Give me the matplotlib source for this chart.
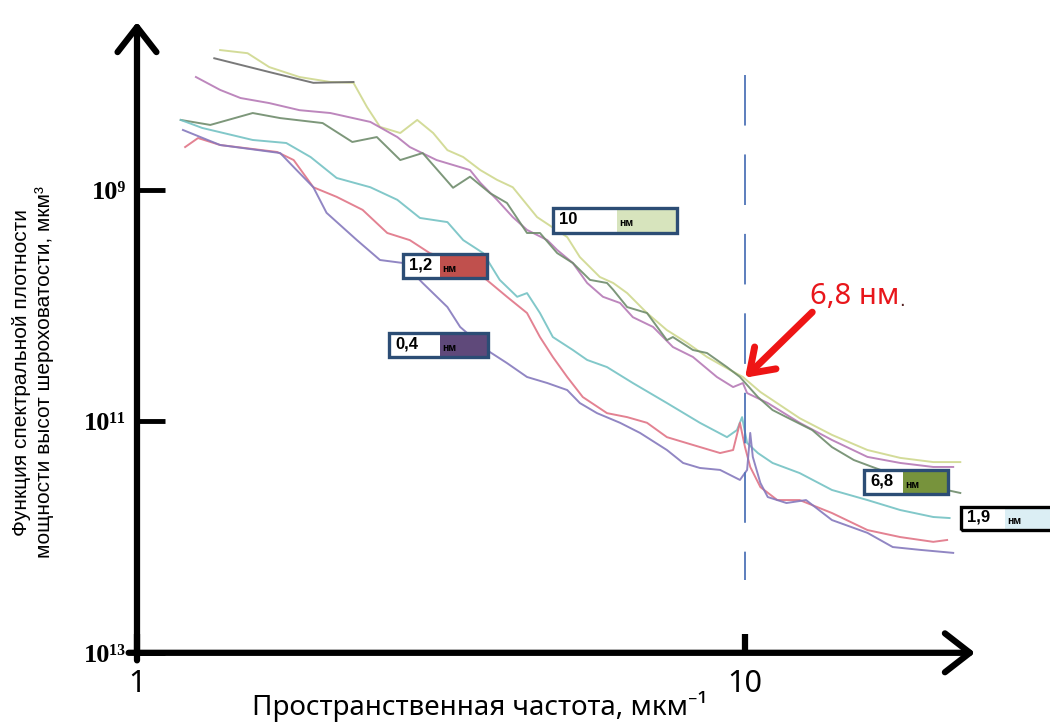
import matplotlib
matplotlib.use('Agg')
import matplotlib.pyplot as plt
from matplotlib.patches import Rectangle
from matplotlib.ticker import NullLocator

# spatial frequency (1/um) and PSD, one pair per curve
freq_10 = [1.37, 1.52, 1.65, 1.85, 2.08, 2.27, 2.39, 2.51, 2.71, 2.89, 3.07, 3.24, 3.44, 3.67, 3.91,
           4.15, 4.55, 5.10, 5.35, 5.77, 6.07, 6.40, 6.90, 7.44, 8.03, 8.66, 9.45, 9.92, 10.6, 11.4,
           12.3, 13.9, 15.9, 18.0, 20.4, 22.6]
psd_10 = [6.2e7, 6.6e7, 8.7e7, 1.06e8, 1.17e8, 1.19e8, 1.93e8, 2.86e8, 3.23e8, 2.49e8, 3.23e8, 4.54e8,
          5.21e8, 6.75e8, 8.2e8, 9.5e8, 1.72e9, 2.56e9, 3.81e9, 5.66e9, 6.38e9, 7.8e9, 1.16e10, 1.63e10,
          2.10e10, 2.78e10, 3.6e10, 4.14e10, 5.58e10, 7.2e10, 9.4e10, 1.31e11, 1.77e11, 2.07e11, 2.25e11, 2.25e11]

freq_gray = [1.34, 1.65, 1.95, 2.27]
psd_gray = [7.3e7, 9.6e7, 1.19e8, 1.17e8]

freq_mag = [1.25, 1.37, 1.48, 1.65, 1.85, 2.08, 2.42, 2.68, 2.81, 3.11, 3.53, 3.67, 3.91, 4.15, 4.38,
            4.73, 4.91, 5.21, 5.50, 5.84, 6.23, 6.54, 7.06, 7.61, 8.21, 8.99, 9.56, 9.92, 10.08, 10.9,
            12.3, 13.9, 15.9, 18.0, 20.4, 22.0]
psd_mag = [1.06e8, 1.37e8, 1.61e8, 1.78e8, 2.05e8, 2.17e8, 2.59e8, 3.50e8, 4.27e8, 5.53e8, 6.75e8, 8.7e8,
           1.22e9, 1.72e9, 2.22e9, 2.72e9, 3.31e9, 4.29e9, 6.38e9, 8.4e9, 9.5e9, 1.26e10, 1.53e10, 2.28e10,
           2.78e10, 4.14e10, 5.06e10, 4.67e10, 5.70e10, 6.95e10, 1.03e11, 1.45e11, 2.03e11, 2.29e11, 2.48e11, 2.48e11]

freq_68 = [1.18, 1.32, 1.55, 1.72, 2.02, 2.26, 2.48, 2.71, 2.95, 3.31, 3.53, 3.81, 4.06, 4.38, 4.60,
           4.91, 5.21, 5.56, 5.93, 6.07, 6.40, 6.90, 7.44, 7.61, 8.21, 8.66, 9.34, 9.81, 10.5, 11.1,
           11.7, 12.9, 13.9, 15.1, 16.2, 18.0, 20.4, 22.6]
psd_68 = [2.49e8, 2.75e8, 2.17e8, 2.40e8, 2.65e8, 3.86e8, 3.50e8, 5.53e8, 4.81e8, 9.6e8, 7.7e8, 1.07e9,
          1.30e9, 2.36e9, 2.36e9, 3.52e9, 4.29e9, 6.0e9, 6.38e9, 7.3e9, 1.03e10, 1.16e10, 1.99e10, 1.87e10,
          2.42e10, 2.57e10, 3.40e10, 4.14e10, 6.17e10, 7.99e10, 9.2e10, 1.19e11, 1.67e11, 2.16e11, 2.48e11,
          3.03e11, 3.70e11, 4.16e11]

freq_19 = [1.18, 1.28, 1.55, 1.76, 1.93, 2.13, 2.42, 2.68, 2.92, 3.24, 3.44, 3.71, 3.95, 4.22, 4.38,
           4.60, 4.83, 5.21, 5.50, 5.93, 6.54, 7.44, 8.43, 9.34, 9.70, 9.89, 10.08, 10.5, 11.1, 12.3,
           13.9, 15.9, 18.0, 20.4, 21.7]
psd_19 = [2.49e8, 2.92e8, 3.71e8, 3.94e8, 5.21e8, 7.9e8, 9.5e8, 1.22e9, 1.75e9, 1.90e9, 2.72e9, 3.52e9,
          6.0e9, 8.4e9, 7.8e9, 1.16e10, 1.87e10, 2.42e10, 2.95e10, 3.40e10, 4.67e10, 6.95e10, 1.03e11,
          1.37e11, 1.19e11, 9.2e10, 1.54e11, 1.88e11, 2.29e11, 2.80e11, 3.92e11, 4.79e11, 5.84e11, 6.71e11, 6.85e11]

freq_12 = [1.20, 1.26, 1.37, 1.70, 1.81, 1.95, 2.13, 2.35, 2.58, 2.81, 3.03, 3.40, 3.76, 4.06, 4.38,
           4.60, 4.83, 5.10, 5.41, 5.93, 6.40, 6.90, 7.44, 8.21, 9.10, 9.56, 9.81, 10.0, 10.2, 10.6,
           11.3, 12.3, 13.9, 15.9, 18.0, 20.4, 21.5]
psd_12 = [4.27e8, 3.57e8, 4.10e8, 4.71e8, 5.53e8, 9.5e8, 1.15e9, 1.49e9, 2.36e9, 2.72e9, 3.52e9, 4.29e9,
          6.0e9, 8.4e9, 1.16e10, 1.87e10, 2.78e10, 4.14e10, 6.17e10, 8.5e10, 9.2e10, 1.03e11, 1.37e11,
          1.60e11, 1.88e11, 1.77e11, 1.03e11, 1.67e11, 2.48e11, 3.70e11, 4.79e11, 4.79e11, 6.2e11, 8.7e11,
          1.0e12, 1.10e12, 1.06e12]

freq_04 = [1.19, 1.37, 1.72, 1.83, 1.95, 2.05, 2.30, 2.51, 2.74, 2.95, 3.24, 3.40, 3.76, 4.06, 4.38,
           4.73, 5.10, 5.35, 5.71, 6.23, 6.72, 7.44, 7.91, 8.43, 9.10, 9.81, 10.08, 10.2, 10.3, 10.6,
           10.9, 11.7, 12.6, 13.9, 15.9, 17.5, 19.4, 22.0]
psd_04 = [3.04e8, 4.10e8, 4.81e8, 6.75e8, 9.5e8, 1.58e9, 2.72e9, 4.04e9, 4.29e9, 6.38e9, 1.03e10, 1.53e10,
          2.42e10, 3.14e10, 4.14e10, 4.67e10, 5.37e10, 6.95e10, 8.5e10, 1.03e11, 1.26e11, 1.77e11, 2.29e11,
          2.53e11, 2.63e11, 3.21e11, 2.63e11, 1.26e11, 2.03e11, 3.41e11, 4.51e11, 5.08e11, 4.79e11, 7.13e11,
          9.2e11, 1.22e12, 1.29e12, 1.37e12]

curves = [
    (freq_10, psd_10, '#cfd88e'),
    (freq_gray, psd_gray, '#6b6b6b'),
    (freq_mag, psd_mag, '#b67ab6'),
    (freq_68, psd_68, '#6f8c6c'),
    (freq_19, psd_19, '#74c2c4'),
    (freq_12, psd_12, '#e07486'),
    (freq_04, psd_04, '#8579bd'),
]

W, H = 1050, 724
fig = plt.figure(figsize=(W / 100, H / 100), dpi=100)
ax = fig.add_axes([137 / W, 1 - 652.8 / H, 838 / W, (652.8 - 22) / H])
ax.set_xscale('log')
ax.set_yscale('log')
ax.set_xlim(1, 10 ** (838 / 608))
ax.set_ylim(1e13, 10 ** 7.55)

for f, p, c in curves:
    ax.plot(f, p, color=c, lw=1.4, alpha=0.9)

# dashed marker at 10 1/um
ax.plot([10, 10], [1.02e8, 2.35e12], color='#4f74b8', lw=1.3, ls=(0, (28, 16)))

for s in ax.spines.values():
    s.set_visible(False)

# axes drawn as thick arrows
arr = dict(arrowstyle='->,head_length=0.9,head_width=0.7', lw=4.5, color='black',
           shrinkA=0, shrinkB=0, mutation_scale=20)
ax.annotate('', xy=(0, 1), xytext=(0, -0.012), xycoords='axes fraction',
            arrowprops=arr, annotation_clip=False)
ax.annotate('', xy=(1, 0), xytext=(-0.01, 0), xycoords='axes fraction',
            arrowprops=arr, annotation_clip=False)

ax.set_xticks([1, 10], ['1', '10'], fontsize=22, family=['Noto Sans', 'DejaVu Sans'])
ax.xaxis.set_minor_locator(NullLocator())
ax.set_yticks([1e9, 1e11, 1e13], ['10⁹', '10¹¹', '10¹³'], fontsize=19, fontweight='bold',
              family=['Liberation Serif', 'DejaVu Serif'])
ax.yaxis.set_minor_locator(NullLocator())
ax.tick_params(axis='y', direction='in', length=20, width=3.5, pad=8)
ax.tick_params(axis='x', direction='in', length=14, width=4.5, pad=12)

# red pointer
ax.annotate('', xy=(10, 4.2e10), xytext=(12.9, 1.14e10),
            arrowprops=dict(arrowstyle='->,head_length=0.8,head_width=0.55', color='#ee1515', lw=5,
                            mutation_scale=20, shrinkA=0, shrinkB=0))
ax.text(12.8, 8.4e9, '6,8 нм', color='#e8161b', fontsize=21, ha='left', va='center',
        family=['Noto Sans', 'DejaVu Sans'])
ax.text(17.9, 1.0e10, '.', color='#552222', fontsize=13, ha='left', va='baseline')


def px(x, y):
    return x / W, 1 - y / H


def label_box(x0, y0, x1, y1, split, number, fill, edge):
    h = (y1 - y0) / H
    fig.add_artist(Rectangle(px(x0, y1), (split - x0) / W, h, facecolor='white',
                             edgecolor='none', zorder=5))
    fig.add_artist(Rectangle(px(split, y1), (x1 - split) / W, h, facecolor=fill,
                             edgecolor='none', zorder=5))
    fig.add_artist(Rectangle(px(x0, y1), (x1 - x0) / W, h, facecolor='none',
                             edgecolor=edge, lw=2.4, zorder=6))
    fig.text(*px(x0 + 6, (y0 + y1) / 2 - 1), number, fontsize=12, fontweight='bold',
             ha='left', va='center', zorder=7, family=['Liberation Sans', 'DejaVu Sans'])
    fig.text(*px(split + 2, (y0 + y1) / 2 + 3), 'нм', fontsize=7.5, fontweight='bold',
             ha='left', va='center', zorder=7, family=['Liberation Sans', 'DejaVu Sans'])


label_box(553, 208, 677, 233, 617, '10', '#d7e4bd', '#2c4d75')
label_box(403, 254, 487, 278, 440, '1,2', '#c0504d', '#2c4d75')
label_box(389, 333, 488, 357, 440, '0,4', '#5f497a', '#2c4d75')
label_box(864, 470, 948, 494, 903, '6,8', '#77933c', '#2c4d75')
label_box(961, 507, 1060, 530, 1005, '1,9', '#dbeef4', 'black')

fig.text(33 / W, 1 - 372 / H, 'Функция спектральной плотности\nмощности высот шероховатости, мкм³',
         rotation=90, ha='center', va='center', fontsize=15, linespacing=1.25,
         multialignment='center', family=['Liberation Sans', 'DejaVu Sans'])
fig.text(480 / W, 1 - 706 / H, 'Пространственная частота, мкм⁻¹', fontsize=20,
         ha='center', va='center', family=['Noto Sans', 'DejaVu Sans'])

fig.savefig('out.png', dpi=100, facecolor='white')
